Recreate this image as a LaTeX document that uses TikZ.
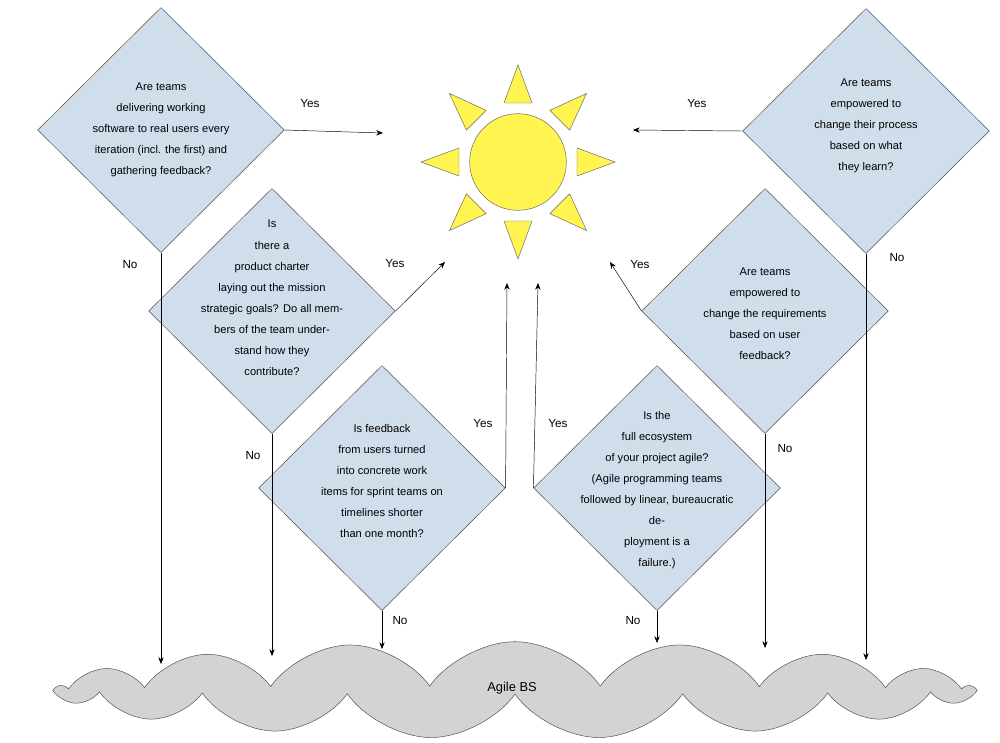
\documentclass[tikz,border=0pt]{standalone}
\usepackage{fontspec}
\setmainfont{Liberation Sans}
\usetikzlibrary{shapes.geometric,shapes.symbols,arrows.meta,calc,positioning}
\definecolor{qblue}{RGB}{208,222,236}
\definecolor{sunyellow}{RGB}{255,244,80}
\definecolor{bsgray}{RGB}{211,211,211}
\tikzset{
  question/.style={diamond, draw=black!70, fill=qblue, minimum width=7.4cm, minimum height=7.35cm, inner sep=0pt},
  qtext/.style={align=center, font=\fontsize{9.5}{18}\selectfont},
  answer/.style={font=\fontsize{10}{12}\selectfont},
  flow/.style={-{Stealth[length=2mm,width=1.6mm]}, thin},
}
\begin{document}
\begin{tikzpicture}[x=0.03cm,y=-0.03cm]
	\useasboundingbox (0,0) rectangle (1000,742);

	% sun
	\node[circle, draw=black!60, fill=sunyellow, minimum size=2.9cm] (sun) at (518,162) {};
	\foreach \a in {0,45,...,315}
		\draw[black!60, fill=sunyellow] ($(518,162)+(\a:97)$) -- ($(518,162)+(\a:59)+(\a+90:14)$) -- ($(518,162)+(\a:59)+(\a-90:14)$) -- cycle;

	% cloud
	\node[cloud, cloud puffs=17, cloud puff arc=110, aspect=9, draw=black!70, fill=bsgray, minimum width=27.4cm, minimum height=2.9cm] (bs) at (515,690) {};
	\node[answer, font=\fontsize{11}{13}\selectfont] (bslabel) at (512,688) {Agile BS};

	% questions
	\node[question] (d1) at (161,130) {};
	\node[question] (d2) at (272,311) {};
	\node[question] (d3) at (382,488) {};
	\node[question] (d4) at (866,131) {};
	\node[question] (d5) at (765,311) {};
	\node[question] (d6) at (657,488) {};

	\node[qtext] (t1) at (161,130) {Are teams\\delivering working\\software to real users every\\iteration (incl. the first) and\\gathering feedback?};
	\node[qtext] (t2) at (272,298) {Is\\there a\\product charter\\laying out the mission\\strategic goals? Do all mem-\\bers of the team under-\\stand how they\\contribute?};
	\node[qtext] (t3) at (382,481) {Is feedback\\from users turned\\into concrete work\\items for sprint teams on\\timelines shorter\\than one month?};
	\node[qtext] (t4) at (866,126) {Are teams\\empowered to\\change their process\\based on what\\they learn?};
	\node[qtext] (t5) at (765,314) {Are teams\\empowered to\\change the requirements\\based on user\\feedback?};
	\node[qtext] (t6) at (657,490) {Is the\\full ecosystem\\of your project agile?\\(Agile programming teams\\followed by linear, bureaucratic\\de-\\ployment is a\\failure.)};

	% arrow ends
	\coordinate (y1) at (383,133);
	\coordinate (y2) at (445,262);
	\coordinate (y3) at (507,283);
	\coordinate (y4) at (633,130);
	\coordinate (y5) at (610,262);
	\coordinate (y6) at (538,283);
	\coordinate (c1) at (161,664);
	\coordinate (c2) at (272,656);
	\coordinate (c3) at (382,649);
	\coordinate (c4) at (866,660);
	\coordinate (c5) at (765,648);
	\coordinate (c6) at (657,643);

	% yes
	\draw[flow] (d1.east) -- (y1);
	\draw[flow] (d2.east) -- (y2);
	\draw[flow] (d3.east) -- (y3);
	\draw[flow] (d4.west) -- (y4);
	\draw[flow] (d5.west) -- (y5);
	\draw[flow] (d6.west) -- (y6);
	\node[answer] (a1) at (310,104) {Yes};
	\node[answer] (a2) at (395,264) {Yes};
	\node[answer] (a3) at (483,424) {Yes};
	\node[answer] (a4) at (697,104) {Yes};
	\node[answer] (a5) at (640,265) {Yes};
	\node[answer] (a6) at (558,424) {Yes};

	% no
	\draw[flow] (d1.south) -- (c1);
	\draw[flow] (d2.south) -- (c2);
	\draw[flow] (d3.south) -- (c3);
	\draw[flow] (d4.south) -- (c4);
	\draw[flow] (d5.south) -- (c5);
	\draw[flow] (d6.south) -- (c6);
	\node[answer] (n1) at (130,265) {No};
	\node[answer] (n2) at (253,456) {No};
	\node[answer] (n3) at (400,621) {No};
	\node[answer] (n4) at (897,258) {No};
	\node[answer] (n5) at (785,449) {No};
	\node[answer] (n6) at (633,621) {No};
\end{tikzpicture}
\end{document}
